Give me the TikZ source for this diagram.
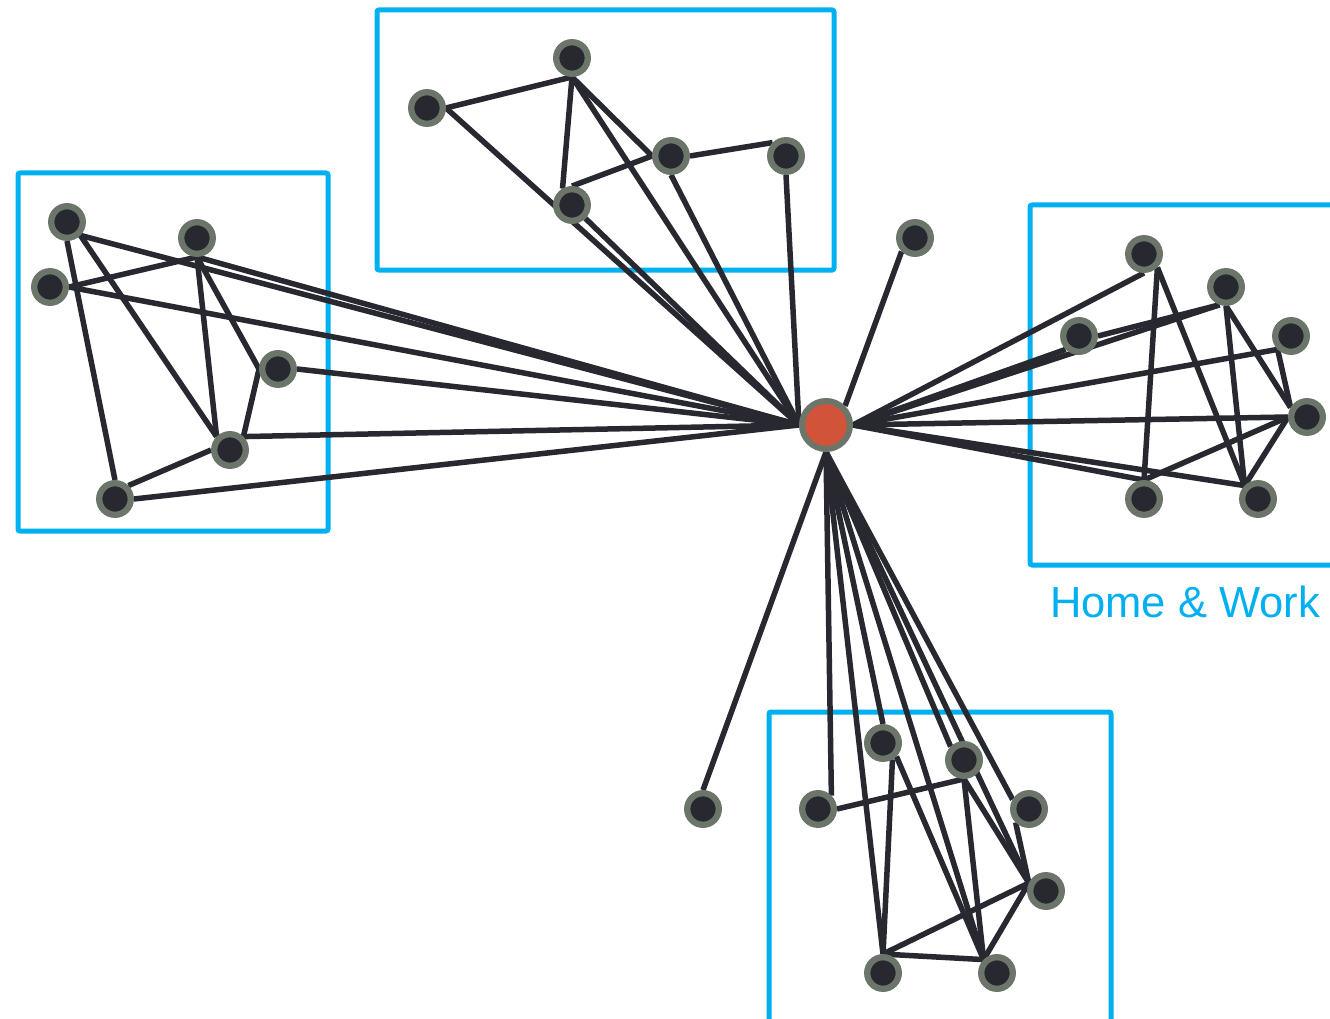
\documentclass[tikz,border=0pt]{standalone}
\usepackage{fontspec}
\newfontfamily\labelfont{Liberation Sans}
\definecolor{boxblue}{HTML}{00B0F0}
\definecolor{nodedark}{HTML}{282830}
\definecolor{ringgray}{HTML}{6B7569}
\definecolor{hubred}{HTML}{D0533A}
\pgfdeclarelayer{bg}
\pgfsetlayers{bg,main}
\tikzset{
  member/.style={circle, draw=ringgray, fill=nodedark, line width=6.3pt, minimum size=31.6pt, inner sep=0pt},
  hub/.style={circle, draw=ringgray, fill=hubred, line width=6pt, minimum size=48pt, inner sep=0pt},
  link/.style={draw=nodedark, line width=5.5pt},
  group/.style={draw=boxblue, line width=5pt, rounded corners=2pt},
}
\begin{document}
\begin{tikzpicture}[x=1pt,y=-1pt]
\useasboundingbox (0,0) rectangle (1330,1019);
\clip (0,0) rectangle (1330,1019);
% hub
\node[hub] (C) at (826,425) {};
% top cluster
\node[member] (T1) at (572,58) {};
\node[member] (T2) at (427,108) {};
\node[member] (T3) at (671,156) {};
\node[member] (T4) at (786,156) {};
\node[member] (T5) at (572,205) {};
% left cluster
\node[member] (L1) at (67,222) {};
\node[member] (L2) at (197,238) {};
\node[member] (L3) at (50,287) {};
\node[member] (L4) at (278,369) {};
\node[member] (L5) at (230,450) {};
\node[member] (L6) at (115,499) {};
% right cluster
\node[member] (R1) at (1144,254) {};
\node[member] (R2) at (1226,287) {};
\node[member] (R3) at (1079,336) {};
\node[member] (R4) at (1291,336) {};
\node[member] (R5) at (1307,417) {};
\node[member] (R6) at (1144,499) {};
\node[member] (R7) at (1258,499) {};
% bottom cluster
\node[member] (B1) at (883,743) {};
\node[member] (B2) at (964,760) {};
\node[member] (B3) at (818,809) {};
\node[member] (B4) at (1029,809) {};
\node[member] (B5) at (1046,891) {};
\node[member] (B6) at (883,973) {};
\node[member] (B7) at (997,973) {};
% loose nodes
\node[member] (O1) at (703,809) {};
\node[member] (O2) at (915,238) {};
% label
\node[font=\labelfont\fontsize{43.5}{50}\selectfont, text=boxblue, anchor=base, inner sep=0pt] (lbl) at (1185,617) {Home \& Work};
\begin{pgfonlayer}{bg}
\fill[white] (0,0) rectangle (1330,1019);
\draw[group] (377,10) rectangle (834,270);
\draw[group] (18,173) rectangle (328,531);
\draw[group] (1030,205) rectangle (1350,565);
\draw[group] (769,712) rectangle (1111,1040);
% top edges
\draw[link] (T1.south) -- (T2.east);
\draw[link] (T1.south) -- (T5.120);
\draw[link] (T1.south) -- (T3.west);
\draw[link] (T1.south) -- (C.west);
\draw[link] (T2.east) -- (C.west);
\draw[link] (T5.south east) -- (C.west);
\draw[link] (T3.south) -- (C.west);
\draw[link] (T3.east) -- (T4.north west);
\draw[link] (T4.south) -- (C.west);
\draw[link] (T5.north) -- (T3.west);
% left edges
\draw[link] (L1.south east) -- (C.west);
\draw[link] (L1.south) -- (L6.north);
\draw[link] (L1.south east) -- (L5.north west);
\draw[link] (L2.south) -- (L3.east);
\draw[link] (L2.south) -- (C.west);
\draw[link] (L2.south) -- (L5.north west);
\draw[link] (L2.south) -- (L4.west);
\draw[link] (L3.east) -- (C.west);
\draw[link] (L4.east) -- (C.west);
\draw[link] (L4.west) -- (L5.north east);
\draw[link] (L5.north east) -- (C.west);
\draw[link] (L5.west) -- (L6.north east);
\draw[link] (L6.east) -- (C.west);
% right edges
\draw[link] (R1.south) -- (C.east);
\draw[link] (R1.south east) -- (R6.north);
\draw[link] (R1.south east) -- (R7.north west);
\draw[link] (R3.east) -- (R2.250);
\draw[link] (R2.250) -- (C.east);
\draw[link] (R3.south west) -- (C.east);
\draw[link] (R4.south west) -- (C.east);
\draw[link] (R4.south west) -- (R5.150);
\draw[link] (R5.west) -- (C.east);
\draw[link] (R2.south) -- (R7.north west);
\draw[link] (R2.south) -- (R5.150);
\draw[link] (R5.west) -- (R6.north);
\draw[link] (R5.west) -- (R7.north west);
\draw[link] (C.east) -- (R6.north);
\draw[link] (C.east) -- (R7.north west);
% bottom edges
\draw[link] (C.south) -- (B3.north east);
\draw[link] (B3.east) -- (B2.south);
\draw[link] (C.south) -- (B6.north);
\draw[link] (C.south) -- (B1.north);
\draw[link] (B1.300) -- (B6.north);
\draw[link] (B1.south east) -- (B7.north west);
\draw[link] (C.south) -- (B7.north west);
\draw[link] (C.south) -- (B2.north west);
\draw[link] (C.south) -- (B5.155);
\draw[link] (C.south) -- (B4.150);
\draw[link] (B4.south west) -- (B5.155);
\draw[link] (B2.south) -- (B7.north west);
\draw[link] (B2.south) -- (B5.155);
\draw[link] (B5.155) -- (B6.north);
\draw[link] (B5.155) -- (B7.north west);
\draw[link] (B6.north) -- (B7.north west);
% loose edges
\draw[link] (O1.north) -- (C.south);
\draw[link] (O2.south west) -- (C.north east);
\end{pgfonlayer}
\end{tikzpicture}
\end{document}
